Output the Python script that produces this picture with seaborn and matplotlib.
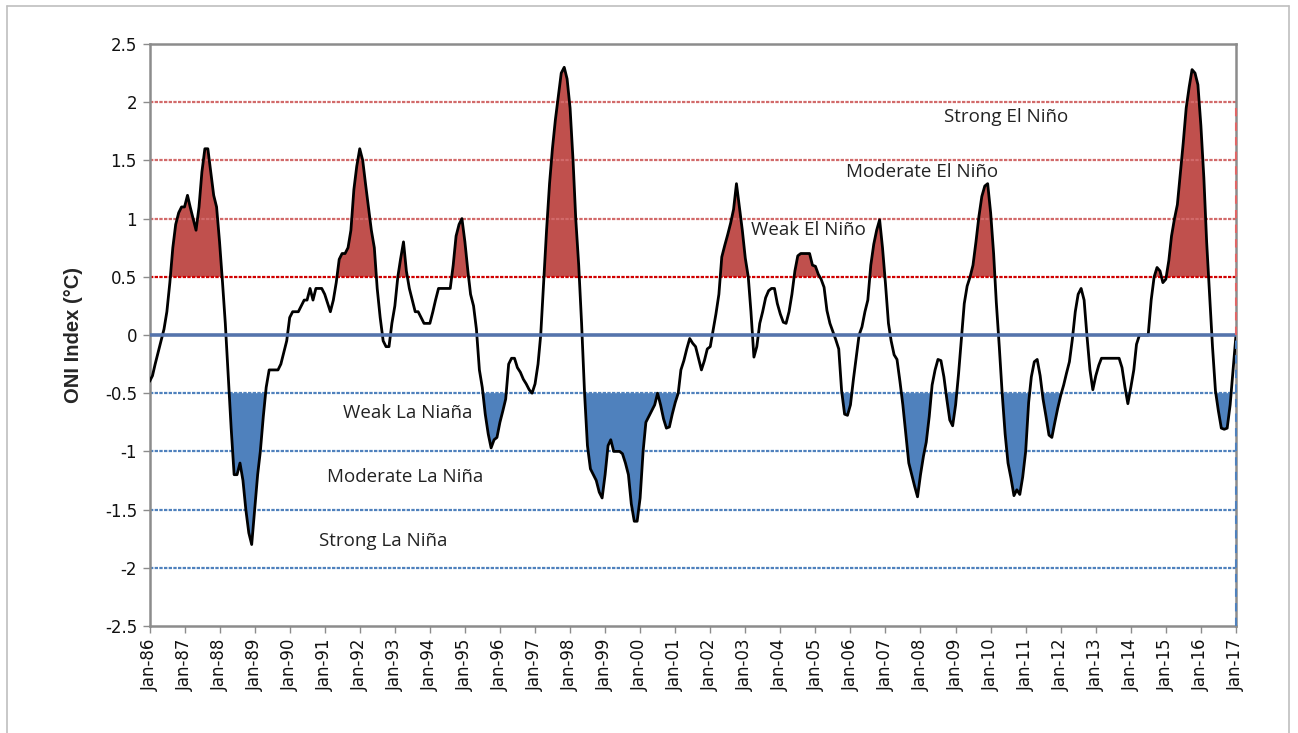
import numpy as np
import pandas as pd
import matplotlib
matplotlib.use("Agg")
import matplotlib.pyplot as plt
import matplotlib.dates as mdates
from matplotlib.lines import Line2D
import seaborn as sns

# monthly ONI values (3-month running mean)
oni_1986 = [-0.4, -0.35, -0.25, -0.15, -0.05, 0.05, 0.2, 0.45, 0.75, 0.95, 1.05, 1.1]
oni_1987 = [1.1, 1.2, 1.1, 1.0, 0.9, 1.1, 1.4, 1.6, 1.6, 1.4, 1.2, 1.1]
oni_1988 = [0.8, 0.45, 0.1, -0.35, -0.8, -1.2, -1.2, -1.1, -1.25, -1.5, -1.7, -1.8]
oni_1989 = [-1.5, -1.2, -1.0, -0.7, -0.45, -0.3, -0.3, -0.3, -0.3, -0.25, -0.15, -0.05]
oni_1990 = [0.15, 0.2, 0.2, 0.2, 0.25, 0.3, 0.3, 0.4, 0.3, 0.4, 0.4, 0.4]
oni_1991 = [0.35, 0.27, 0.2, 0.3, 0.45, 0.65, 0.7, 0.7, 0.75, 0.9, 1.25, 1.45]
oni_1992 = [1.6, 1.5, 1.3, 1.1, 0.9, 0.75, 0.4, 0.15, -0.05, -0.1, -0.1, 0.1]
oni_1993 = [0.25, 0.5, 0.65, 0.8, 0.55, 0.4, 0.3, 0.2, 0.2, 0.15, 0.1, 0.1]
oni_1994 = [0.1, 0.2, 0.3, 0.4, 0.4, 0.4, 0.4, 0.4, 0.6, 0.85, 0.95, 1.0]
oni_1995 = [0.8, 0.55, 0.35, 0.25, 0.05, -0.3, -0.45, -0.68, -0.85, -0.97, -0.9, -0.88]
oni_1996 = [-0.75, -0.65, -0.55, -0.25, -0.2, -0.2, -0.28, -0.32, -0.38, -0.42, -0.47, -0.5]
oni_1997 = [-0.42, -0.25, 0.0, 0.45, 0.9, 1.3, 1.6, 1.85, 2.05, 2.25, 2.3, 2.2]
oni_1998 = [1.95, 1.5, 1.0, 0.6, 0.1, -0.5, -0.95, -1.15, -1.2, -1.25, -1.35, -1.4]
oni_1999 = [-1.2, -0.95, -0.9, -1.0, -1.0, -1.0, -1.02, -1.1, -1.2, -1.45, -1.6, -1.6]
oni_2000 = [-1.4, -1.0, -0.75, -0.7, -0.65, -0.6, -0.5, -0.6, -0.72, -0.8, -0.79, -0.68]
oni_2001 = [-0.58, -0.5, -0.3, -0.22, -0.12, -0.03, -0.07, -0.1, -0.2, -0.3, -0.22, -0.12]
oni_2002 = [-0.1, 0.05, 0.18, 0.35, 0.67, 0.77, 0.86, 0.96, 1.08, 1.3, 1.1, 0.9]
oni_2003 = [0.66, 0.5, 0.2, -0.19, -0.1, 0.1, 0.2, 0.32, 0.38, 0.4, 0.4, 0.27]
oni_2004 = [0.18, 0.11, 0.1, 0.2, 0.35, 0.55, 0.68, 0.7, 0.7, 0.7, 0.7, 0.6]
oni_2005 = [0.59, 0.52, 0.48, 0.41, 0.21, 0.1, 0.03, -0.04, -0.12, -0.48, -0.68, -0.69]
oni_2006 = [-0.6, -0.38, -0.2, 0.0, 0.07, 0.2, 0.3, 0.6, 0.78, 0.9, 0.99, 0.75]
oni_2007 = [0.44, 0.1, -0.05, -0.17, -0.21, -0.4, -0.6, -0.85, -1.1, -1.2, -1.3, -1.39]
oni_2008 = [-1.2, -1.04, -0.92, -0.7, -0.43, -0.3, -0.21, -0.22, -0.36, -0.55, -0.73, -0.78]
oni_2009 = [-0.6, -0.33, -0.04, 0.27, 0.42, 0.5, 0.6, 0.8, 1.02, 1.19, 1.28, 1.3]
oni_2010 = [1.05, 0.7, 0.28, -0.1, -0.5, -0.85, -1.1, -1.23, -1.38, -1.33, -1.37, -1.22]
oni_2011 = [-1.0, -0.58, -0.36, -0.23, -0.21, -0.35, -0.55, -0.7, -0.86, -0.88, -0.75, -0.63]
oni_2012 = [-0.52, -0.43, -0.33, -0.23, -0.04, 0.2, 0.35, 0.4, 0.3, -0.01, -0.3, -0.47]
oni_2013 = [-0.35, -0.26, -0.2, -0.2, -0.2, -0.2, -0.2, -0.2, -0.2, -0.28, -0.45, -0.59]
oni_2014 = [-0.45, -0.3, -0.08, 0.0, 0.0, 0.0, 0.0, 0.3, 0.5, 0.58, 0.55, 0.45]
oni_2015 = [0.48, 0.64, 0.85, 1.0, 1.12, 1.39, 1.65, 1.95, 2.13, 2.28, 2.25, 2.15]
oni_2016 = [1.8, 1.35, 0.8, 0.35, -0.1, -0.48, -0.65, -0.8, -0.81, -0.8, -0.6, -0.3]
oni_2017 = [0.0]

el_nino_levels = [0.5, 1.0, 1.5, 2.0]
la_nina_levels = [-0.5, -1.0, -1.5, -2.0]
category_labels = ["Strong El Niño", "Moderate El Niño", "Weak El Niño",
                   "Weak La Niaña", "Moderate La Niña", "Strong La Niña"]

values = np.concatenate([oni_1986, oni_1987, oni_1988, oni_1989, oni_1990, oni_1991,
                         oni_1992, oni_1993, oni_1994, oni_1995, oni_1996, oni_1997,
                         oni_1998, oni_1999, oni_2000, oni_2001, oni_2002, oni_2003,
                         oni_2004, oni_2005, oni_2006, oni_2007, oni_2008, oni_2009,
                         oni_2010, oni_2011, oni_2012, oni_2013, oni_2014, oni_2015,
                         oni_2016, oni_2017])
dates = pd.date_range("1986-01-01", periods=len(values), freq="MS")
df = pd.DataFrame({"date": dates, "oni": values})

sns.set_theme(style="white")
plt.rcParams["font.family"] = ["DejaVu Sans"]

W, H = 1298, 733
fig = plt.figure(figsize=(W / 100, H / 100), dpi=100)
ax = fig.add_axes([149.5 / W, 1 - 626 / H, (1236 - 149.5) / W, (626 - 44) / H])

red = "#C0504D"
blue = "#4F81BD"

ax.fill_between(df["date"], df["oni"], 0.5, where=df["oni"] > 0.5, interpolate=True,
                color=red, lw=0, zorder=1)
ax.fill_between(df["date"], df["oni"], -0.5, where=df["oni"] < -0.5, interpolate=True,
                color=blue, lw=0, zorder=1)

for lv in el_nino_levels:
    c = "#D00000" if lv == 0.5 else "#D26A6A"
    ax.axhline(lv, color=c, lw=1.6, ls=(0, (1.5, 0.6)), zorder=2)
for lv in la_nina_levels:
    ax.axhline(lv, color="#4F81BD", lw=1.6, ls=(0, (1.5, 0.6)), zorder=2)

sns.lineplot(data=df, x="date", y="oni", color="black", lw=2.0, ax=ax, zorder=3)
ax.axhline(0, color="#5574AC", lw=2.6, zorder=3.5)

# edge lines of the area series
ax.vlines(dates[-1], 0, 2.0, colors="#E06666", linestyles=(0, (4, 3)), lw=1.5, zorder=4, clip_on=False)
ax.vlines(dates[-1], -2.5, 0, colors=blue, linestyles=(0, (4, 3)), lw=1.5, zorder=4, clip_on=False)

ax.set_xlim(dates[0], dates[-1])
ax.set_ylim(-2.5, 2.5)
ax.set_yticks(np.arange(-2.5, 2.51, 0.5))
ax.set_yticklabels([f"{v:g}" for v in np.arange(-2.5, 2.51, 0.5)])
ax.xaxis.set_major_locator(mdates.YearLocator(month=1))
ax.xaxis.set_major_formatter(mdates.DateFormatter("%b-%y"))
plt.setp(ax.get_xticklabels(), rotation=90)
ax.tick_params(axis="both", labelsize=12, labelcolor="#111111", color="#8C8C8C",
               length=5, width=1, direction="out", pad=4)
ax.tick_params(axis="x", bottom=True)
ax.tick_params(axis="y", left=True)
for s in ax.spines.values():
    s.set_color("#8C8C8C")
    s.set_linewidth(1.8)

ax.set_xlabel("")
ax.set_ylabel("ONI Index (°C)", fontsize=14.5, fontweight="bold",
              family=["Liberation Sans Narrow", "Liberation Sans"], labelpad=16)

txt = dict(fontsize=13.5, family=["Open Sans", "DejaVu Sans"], color="#222222",
           ha="center", va="center", zorder=5)
ax.text(pd.Timestamp("2010-06-15"), 1.87, category_labels[0], **txt)
ax.text(pd.Timestamp("2008-01-15"), 1.40, category_labels[1], **txt)
ax.text(pd.Timestamp("2004-10-15"), 0.90, category_labels[2], **txt)
ax.text(pd.Timestamp("1993-05-15"), -0.67, category_labels[3], **txt)
ax.text(pd.Timestamp("1993-04-15"), -1.22, category_labels[4], **txt)
ax.text(pd.Timestamp("1992-09-01"), -1.77, category_labels[5], **txt)

# outer chart border
for xs, ys in [([7, 7], [740, 6]), ([7, 1289], [6, 6]), ([1289, 1289], [6, 740])]:
    fig.add_artist(Line2D([x / W for x in xs], [1 - y / H for y in ys],
                          color="#BFBFBF", lw=1.2))

fig.savefig("out.png", dpi=100)
